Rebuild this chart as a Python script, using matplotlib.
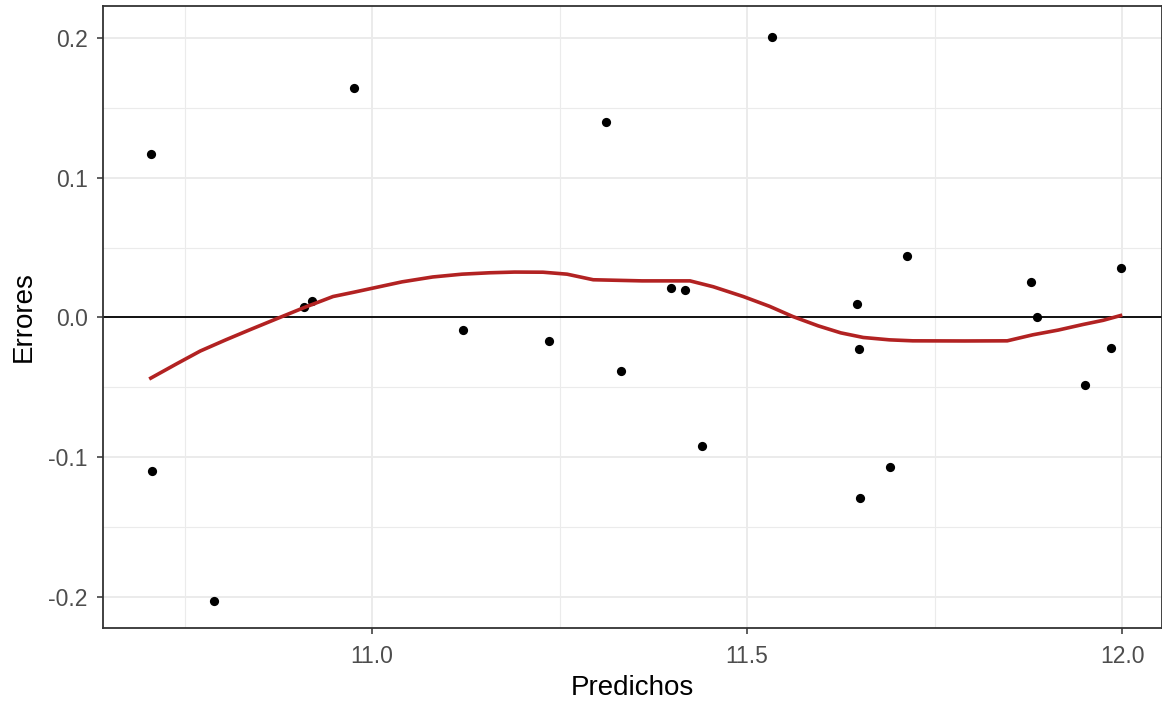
import matplotlib
matplotlib.use("Agg")
import matplotlib.pyplot as plt
import numpy as np

# residuos vs predichos
predichos = [10.705, 10.707, 10.789, 10.909, 10.920, 10.976, 11.121, 11.236,
             11.312, 11.332, 11.398, 11.417, 11.440, 11.533, 11.646, 11.649,
             11.651, 11.691, 11.713, 11.878, 11.886, 11.950, 11.985, 11.998]
errores = [0.117, -0.110, -0.203, 0.0074, 0.012, 0.164, -0.0088, -0.0171,
           0.140, -0.0386, 0.0214, 0.0198, -0.092, 0.201, 0.010, -0.0229,
           -0.129, -0.107, 0.0443, 0.0257, 0.0, -0.0486, -0.0217, 0.0357]

# curva suavizada (loess)
suave_x = [10.705, 10.740, 10.771, 10.805, 10.837, 10.877, 10.910, 10.948,
           10.975, 11.001, 11.040, 11.081, 11.120, 11.157, 11.190, 11.228,
           11.260, 11.295, 11.360, 11.424, 11.455, 11.495, 11.530, 11.561,
           11.595, 11.625, 11.655, 11.690, 11.721, 11.790, 11.847, 11.881,
           11.915, 11.948, 11.975, 11.998]
suave_y = [-0.0434, -0.0330, -0.0240, -0.0160, -0.0088, 0.0, 0.0072, 0.0150,
           0.0180, 0.0210, 0.0255, 0.0290, 0.0310, 0.0320, 0.0325, 0.0324,
           0.0310, 0.0270, 0.0262, 0.0262, 0.0220, 0.0150, 0.0080, 0.0007,
           -0.0060, -0.0110, -0.0143, -0.0160, -0.0167, -0.0168, -0.0167, -0.0124,
           -0.0090, -0.0050, -0.0020, 0.0014]

plt.rcParams['font.family'] = ['Liberation Sans', 'DejaVu Sans']

fig = plt.figure(figsize=(11.62, 7.02), dpi=100)
ax = fig.add_axes([103/1162, 74/702, 1059/1162, 622/702])

ax.set_xlim(10.6413, 12.0533)
ax.set_ylim(-0.2222, 0.2229)

ax.set_xticks([11.0, 11.5, 12.0])
ax.set_xticklabels(['11.0', '11.5', '12.0'])
ax.set_xticks([10.75, 11.25, 11.75], minor=True)
ax.set_yticks([-0.2, -0.1, 0.0, 0.1, 0.2])
ax.set_yticklabels(['-0.2', '-0.1', '0.0', '0.1', '0.2'])
ax.set_yticks([-0.15, -0.05, 0.05, 0.15], minor=True)

ax.grid(which='major', color='#ebebeb', linewidth=1.4)
ax.grid(which='minor', color='#ebebeb', linewidth=0.8)
ax.set_axisbelow(True)

ax.tick_params(which='major', length=4, width=1.1, color='#333333',
               labelcolor='#4d4d4d', labelsize=16.5)
ax.tick_params(axis='x', which='major', pad=8)
ax.tick_params(axis='y', which='major', pad=7)
ax.tick_params(which='minor', length=0)

for s in ax.spines.values():
    s.set_color('#333333')
    s.set_linewidth(1.3)

ax.axhline(0, color='black', linewidth=1.3, zorder=2)
ax.scatter(predichos, errores, s=44, color='black', zorder=3, linewidths=0)
ax.plot(suave_x, suave_y, color='#b22222', linewidth=2.6, zorder=4,
        solid_joinstyle='round')

ax.set_xlabel('Predichos', fontsize=20, labelpad=5)
ax.set_ylabel('Errores', fontsize=20, labelpad=8)

fig.savefig('out.png', dpi=100)
